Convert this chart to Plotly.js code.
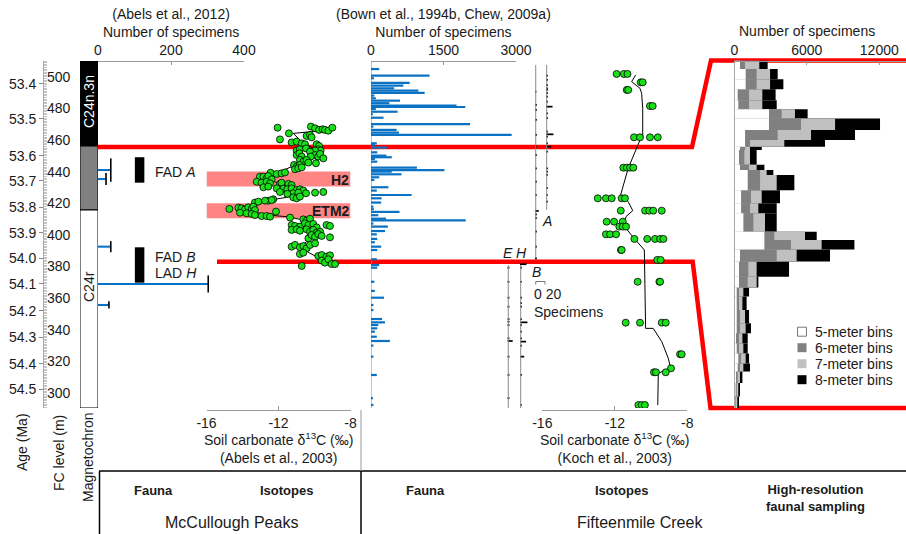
<!DOCTYPE html>
<html><head><meta charset="utf-8">
<script src="https://cdn.plot.ly/plotly-3.0.1.min.js"></script>
<style>html,body{margin:0;padding:0;background:#fff}</style>
</head><body><div id="chart" style="width:906px;height:534px"></div>
<script>
// ---------------- DATA ----------------
const fcTicks = [300, 320, 340, 360, 380, 400, 420, 440, 460, 480, 500];
const ageLabels = ['53.4','53.5','53.6','53.7','53.8','53.9','54.0','54.1','54.2','54.3','54.4','54.5'];
const ageLevels = [495.6, 473.4, 450.0, 434.2, 417.7, 401.3, 385.4, 369.0, 351.9, 335.4, 318.4, 302.5];

const chronLabels = ['C24n.3n', '', 'C24r'];
const chronTop = [512, 456.3, 415.8];
const chronBottom = [456.3, 415.8, 290.5];

const boundaryLevels = [455.7, 383.1];
const bandNames = ['H2', 'ETM2'];
const bandBottom = [430.6, 410.6];
const bandTop = [440.1, 420.1];

// McCullough Peaks fauna
const mcFaunaLevel = [441.1, 435.4, 392.6, 369.0, 355.7];
const mcFaunaCount = [35, 22, 35, 302, 30];
const mcFaunaHalfSpan = [7.4, 3.8, 3.5, 5.4, 2.3];
const fadLabels = ['FAD <i>A</i>', 'FAD <i>B</i>', 'LAD <i>H</i>'];
const fadTop = [449.2, 392.2];
const fadBottom = [433.1, 369.8];

// McCullough Peaks isotopes
const mcIsoVal = [-12.05,-10.20,-9.97,-9.75,-9.55,-9.42,-9.23,-9.01,-11.42,-10.44,-10.25,-10.16,-11.92,-11.27,-10.99,-10.71,-10.53,-9.88,-9.75,-9.79,-9.66,-9.97,-10.99,-10.81,-10.47,-10.25,-10.99,-10.84,-10.71,-9.97,-9.79,-9.69,-9.51,-10.21,-10.81,-10.62,-10.44,-9.92,-10.34,-11.14,-10.99,-10.81,-11.08,-10.90,-10.71,-12.44,-12.10,-11.83,-11.64,-13.03,-12.84,-12.66,-12.57,-12.38,-13.21,-12.94,-12.66,-12.47,-11.92,-11.83,-11.45,-11.27,-12.84,-12.57,-12.10,-11.73,-11.51,-11.27,-10.99,-10.81,-10.62,-11.18,-10.90,-10.47,-9.97,-9.51,-11.92,-11.51,-12.29,-11.18,-10.99,-10.81,-12.57,-12.38,-13.31,-13.12,-12.75,-14.73,-14.23,-14.05,-13.86,-13.68,-13.49,-13.40,-13.31,-12.14,-14.14,-13.77,-13.49,-13.31,-12.94,-12.66,-12.47,-11.36,-10.62,-10.44,-10.25,-11.27,-11.08,-10.81,-10.53,-10.34,-10.07,-9.88,-9.33,-9.14,-11.27,-10.99,-10.81,-10.44,-10.25,-10.07,-9.88,-9.69,-10.34,-10.16,-9.97,-9.79,-9.60,-9.14,-11.27,-11.08,-10.81,-10.62,-10.44,-10.25,-9.97,-10.81,-10.62,-9.79,-9.60,-9.33,-9.14,-9.60,-9.42,-9.23,-9.05,-8.86,-10.71];
const mcIsoLevel = [467.9,468.6,467.5,466.5,466.9,466.5,466.0,467.9,464.3,462.7,463.3,461.8,460.5,458.6,459.1,458.0,457.4,457.4,456.3,454.2,453.4,453.4,453.4,454.2,454.8,452.7,450.6,451.7,449.6,450.6,449.6,451.3,448.5,449.6,447.5,446.4,447.5,445.4,445.8,444.3,443.2,444.3,441.6,442.2,442.8,439.4,438.6,439.0,439.6,436.9,436.9,435.9,437.3,435.2,433.7,433.1,433.7,432.7,432.3,433.1,432.3,431.6,430.2,430.6,429.5,429.3,428.9,429.5,428.5,428.9,428.1,426.4,426.8,426.4,426.8,427.2,427.2,426.0,422.6,423.8,423.2,424.3,421.7,422.1,420.5,421.1,421.7,416.5,417.3,416.9,416.2,417.5,416.5,417.9,415.8,414.8,414.1,413.7,413.3,412.6,412.0,412.0,411.6,411.0,409.9,409.1,410.3,406.3,405.7,405.3,407.4,406.3,407.0,404.8,406.3,405.7,403.2,403.6,402.7,403.6,402.1,403.2,401.5,402.1,397.9,400.0,398.9,400.6,399.4,398.5,392.6,393.7,392.2,393.0,391.6,393.7,394.7,388.0,388.8,386.7,387.3,386.3,387.1,383.8,382.5,384.6,381.6,381.6,380.4];
const mcTrendVal = [-9.05,-10.16,-11.18,-10.62,-10.07,-9.88,-10.25,-10.81,-11.27,-11.92,-12.84,-12.47,-11.73,-10.81,-10.62,-11.55,-12.47,-13.40,-14.14,-13.40,-12.66,-11.55,-10.62,-10.81,-10.44,-10.07,-10.44,-10.81,-10.25,-9.69,-9.05];
const mcTrendLevel = [467.5,465.4,464.3,458.0,454.8,452.7,449.6,445.4,443.2,440.1,436.9,434.8,431.6,429.5,426.4,423.8,422.1,420.0,416.9,414.8,412.6,411.6,409.5,406.3,403.2,400.0,395.8,392.6,388.4,385.2,382.1];

// Fifteenmile Creek fauna
const fmFaunaLevel = [505,500.8,499.2,496.2,494.5,492.8,491.3,489.9,488.2,486.5,485,483.4,481.8,481,479.7,478,476.4,474.2,470.1,468.6,466.5,464.8,463.3,458,457,455.3,452.3,450.2,449.2,448.1,446.4,442.6,441.1,440.1,438.4,436.5,434.8,430.2,428.1,425.3,423.2,420.5,417.9,416.3,414.6,412.5,410.3,409.3,407.2,405.3,402.5,400.4,397.5,395.4,392.6,390.5,384.6,381,379.3,370.4,364.6,360.3,355.7,352.5,346.8,344.7,343,340.9,338.8,335.6,332.9,330,323,311.4,296.7,292.4];
const fmFaunaCount = [170,1210,60,800,670,480,980,1110,70,100,600,380,1770,1950,100,550,40,260,2050,50,530,580,2910,120,80,330,130,320,430,80,130,950,1520,430,630,170,70,360,120,840,220,210,50,60,590,150,310,1960,50,350,290,120,130,80,210,130,120,170,130,70,80,270,50,50,230,290,150,130,80,120,390,50,50,120,40,50];

// Fifteenmile Creek taxon ranges (kite diagrams)
const taxa = ['E', 'H', 'B', 'A'];
const taxonTop = [381.0, 381.0, 507.6, 507.6];
const taxonBottom = [290.5, 290.5, 385.4, 415.8];
const eLevels = [379.3,370.4,360.3,354.6,346.8,345.1,343.0,334.6,332.9,323.0,311.4,296.7];
const eCounts = [4,4,4,4,4,4,4,4,11,4,4,4];
const hLevels = [381.5,379.3,370.4,360.3,356.8,354.6,346.8,344.7,343.0,338.8,334.6,332.5,330.0,323.0,311.4,292.4];
const hCounts = [14,4,4,4,4,4,4,16,4,4,4,13,4,9,4,4];
const bLevels = [490.7,482.3,479.1,472.8,463.3,455.9,450.6,442.2,433.7,425.3,415.2,413.1,410.6,402.1,392.6,385.2];
const bCounts = [3,4,4,4,4,4,4,4,4,4,8,4,4,4,4,4];
const aLevels = [500.8,498.1,494.9,492.8,491.8,489.7,487.5,484.4,481.2,477.0,473.9,465.4,463.7,462.2,458.0,455.9,452.7,442.2,440.1,438.0,429.6,425.3,421.1];
const aCounts = [4,4,4,4,4,4,4,4,14,4,4,4,16,4,4,11,4,4,4,4,4,4,4];

// Fifteenmile Creek isotopes
const fmIsoVal = [-11.9,-11.5,-11.3,-10.57,-10.46,-11.34,-11.26,-10.06,-9.91,-10.94,-10.61,-10.06,-9.63,-11.53,-11.34,-11.16,-10.98,-12.94,-12.49,-12.17,-11.62,-11.44,-11.67,-10.33,-10.1,-9.88,-9.41,-12.45,-12.04,-11.56,-11.75,-11.56,-11.38,-12.49,-12.26,-11.93,-10.92,-10.21,-9.78,-9.5,-9.32,-11.66,-11.62,-9.66,-9.47,-10.74,-9.54,-9.5,-11.4,-10.61,-9.41,-9.19,-8.4,-8.31,-8.9,-9.84,-9.73,-9.19,-10.7,-10.52,-10.34];
const fmIsoLevel = [501.9,501.9,501.9,496.6,496.6,491.8,491.8,481.6,481.6,461.8,461.8,461.8,461.8,442.6,442.6,442.6,442.6,423.2,423.2,423.2,423.2,423.2,415.4,415.4,415.4,415.4,415.4,408.4,408.4,408.4,405.3,405.3,405.3,400.4,400.4,400.4,397.5,397.5,397.5,397.5,397.5,390.5,390.5,384.2,384.2,370.4,370.4,370.4,344.5,344.5,344.5,344.5,324.5,324.5,315.6,313.1,313.1,313.1,292.4,292.4,292.4];
const fmTrendVal = [-10.85,-11.07,-10.61,-10.52,-10.46,-10.46,-10.61,-11.26,-11.68,-11.44,-11.26,-11.01,-11.38,-11.56,-11.38,-11.01,-10.37,-10.30,-9.88,-9.41,-9.05,-8.92,-9.19,-9.60,-9.63];
const fmTrendLevel = [501.3,497.0,492.8,489.7,480.2,462.3,460.1,442.2,425.3,423.2,421.1,415.4,411.6,406.3,404.2,398.9,390.5,340.9,340.9,332.5,322.0,315.6,314.6,312.5,292.4];

// High-resolution faunal sampling (cumulative stacked edges, per bin)
const hrEdges = [455.7,453.9,451.8,449.7,447.4,445.5,443.6,441.2,439.1,437.7,437.0,433.9,432.8,431.8,428.6,425.9,423.8,419.9,418.2,416.2,413.7,410.5,408.3,406.4,403.6,400.8,398.7,396.6,394.5,392.4,390.7,388.3,385.5,383.1];
const hr5 = [470,940,940,280,330,2870,2870,890,890,470,390,470,1110,1110,560,560,750,2490,2490,470,390,390,200,200,200,200,140,200,330,280,140,110,60];
const hr6 = [890,1850,1850,1220,1220,3920,5520,3590,1300,890,830,1220,2130,2130,1380,1300,1580,3310,4690,3510,1160,1110,390,390,470,470,390,390,560,470,280,200,110];
const hr7 = [2070,2960,2960,2320,2320,5020,8340,6350,4140,1300,1300,1850,2680,3510,2270,1990,2540,5850,7230,5160,1850,1850,750,670,890,940,670,750,940,750,470,330,250];
const hr8 = [2760,3590,4060,3420,3510,6070,12060,9990,7510,2270,1850,2490,3230,4970,3780,3510,3510,6820,9940,7920,4530,1990,1220,1020,1220,1380,1110,1110,1220,1300,670,470,390];
const hrNames = ['5-meter bins', '6-meter bins', '7-meter bins', '8-meter bins'];

// ---------------- LAYOUT HELPERS ----------------
const W = 906, H = 534;
const fx = p => p / W;
const fy = p => 1 - p / H;
const LV_BOT = 290.5, LV_TOP = 510.1, PX_TOP = 61, PX_BOT = 408;
const lvPaper = lv => fy(PX_BOT) + (lv - LV_BOT) / (LV_TOP - LV_BOT) * (fy(PX_TOP) - fy(PX_BOT));
const FONT = 'Liberation Sans, Arial, Helvetica, sans-serif';
const TXT = '#1a1a1a';
const taxonX = {E: 17.8, H: 44.5, B: 76.8, A: 100.4};
const GREEN = '#19e019', BLUE = '#0a72c4';
const hrColorByName = ['#ffffff', '#808080', '#c0c0c0', '#000000'];

function ann(text, x, y, o) {
  const a = {text, x: fx(x), y: fy(y), xref: 'paper', yref: 'paper', showarrow: false,
    xanchor: 'center', yanchor: 'middle', font: {family: FONT, size: 14, color: TXT}};
  if (o) { for (const k in o) { if (k === 'font') Object.assign(a.font, o.font); else a[k] = o[k]; } }
  return a;
}
function topAxis(d0, d1, range, ticks) {
  return {domain: [fx(d0), fx(d1)], range, anchor: 'free', position: fy(PX_TOP), side: 'top',
    tickmode: 'array', tickvals: ticks, ticktext: ticks.map(String), ticks: 'inside', ticklen: 3, tickcolor: '#999',
    showline: true, linecolor: '#999', linewidth: 1, showgrid: false, zeroline: false,
    tickfont: {family: FONT, size: 14, color: TXT}};
}
function isoAxis(d0, d1) {
  return {domain: [fx(d0), fx(d1)], range: [-16, -8], anchor: 'free', position: fy(410), side: 'bottom',
    tickmode: 'array', tickvals: [-16, -12, -8], ticktext: ['-16', '-12', '-8'], ticks: 'inside', ticklen: 4, tickcolor: '#999',
    showline: true, linecolor: '#999', linewidth: 1, showgrid: false, zeroline: false,
    tickfont: {family: FONT, size: 14, color: TXT}};
}

// ---------------- TRACES ----------------
const traces = [];
// magnetochron column
traces.push({type: 'bar', orientation: 'v', x: chronTop.map(() => 0.5), y: chronTop.map((t, i) => t - chronBottom[i]),
  base: chronBottom, width: 1, marker: {color: ['#000', '#808080', '#fff'], line: {color: '#000', width: 1}},
  xaxis: 'x', yaxis: 'y2', showlegend: false, hoverinfo: 'skip'});
// McCullough fauna
traces.push({type: 'bar', orientation: 'h', y: mcFaunaLevel, x: mcFaunaCount, width: 1.3, marker: {color: BLUE, line: {width: 0}},
  xaxis: 'x2', yaxis: 'y', showlegend: false});
traces.push({type: 'scatter', mode: 'markers', x: mcFaunaCount, y: mcFaunaLevel, marker: {size: 1, color: 'rgba(0,0,0,0)'},
  error_y: {type: 'data', array: mcFaunaHalfSpan, visible: true, width: 0, thickness: 1.6, color: '#000'},
  xaxis: 'x2', yaxis: 'y', showlegend: false});
// McCullough isotopes
traces.push({type: 'scatter', mode: 'lines', x: mcTrendVal, y: mcTrendLevel, line: {color: '#000', width: 1},
  xaxis: 'x3', yaxis: 'y', showlegend: false});
traces.push({type: 'scatter', mode: 'markers', x: mcIsoVal, y: mcIsoLevel,
  marker: {size: 7, color: GREEN, line: {color: '#000', width: 0.8}}, xaxis: 'x3', yaxis: 'y', showlegend: false});
// Fifteenmile fauna
traces.push({type: 'bar', orientation: 'h', y: fmFaunaLevel, x: fmFaunaCount, width: 1.4, marker: {color: BLUE, line: {width: 0}},
  xaxis: 'x4', yaxis: 'y', showlegend: false});
// taxon range lines
const rx = [], ry = [];
taxa.forEach((t, i) => { rx.push(taxonX[t], taxonX[t], null); ry.push(taxonTop[i], taxonBottom[i], null); });
traces.push({type: 'scatter', mode: 'lines', x: rx, y: ry, line: {color: '#8a8a8a', width: 1}, xaxis: 'x5', yaxis: 'y', showlegend: false});
// kite ticks
const kSets = [[eLevels, eCounts, 'E'], [hLevels, hCounts, 'H'], [bLevels, bCounts, 'B'], [aLevels, aCounts, 'A']];
const kY = [], kX = [], kB = [];
kSets.forEach(([lv, ct, t]) => lv.forEach((l, i) => { kY.push(l); kX.push(ct[i]); kB.push(taxonX[t] - 1.5); }));
traces.push({type: 'bar', orientation: 'h', y: kY, x: kX, base: kB, width: 1.1, marker: {color: '#000', line: {width: 0}},
  xaxis: 'x5', yaxis: 'y', showlegend: false});
// Fifteenmile isotopes
traces.push({type: 'scatter', mode: 'lines', x: fmTrendVal, y: fmTrendLevel, line: {color: '#000', width: 1},
  xaxis: 'x6', yaxis: 'y', showlegend: false});
traces.push({type: 'scatter', mode: 'markers', x: fmIsoVal, y: fmIsoLevel,
  marker: {size: 7, color: GREEN, line: {color: '#000', width: 0.8}}, xaxis: 'x6', yaxis: 'y', showlegend: false});
// high-resolution histograms (drawn back to front: 8, 7, 6, 5-meter)
const hrC = hrEdges.slice(0, -1).map((e, i) => (e + hrEdges[i + 1]) / 2);
const hrW = hrEdges.slice(0, -1).map((e, i) => e - hrEdges[i + 1]);
const hrSeries = [hr5, hr6, hr7, hr8];
[3, 2, 1, 0].forEach(k => {
  traces.push({type: 'bar', orientation: 'h', y: hrC, x: hrSeries[k], width: hrW, name: hrNames[k],
    marker: {color: hrColorByName[k], line: {width: 0}}, xaxis: 'x7', yaxis: 'y3', showlegend: false});
});

// ---------------- SHAPES ----------------
const shapes = [];
bandNames.forEach((n, i) => shapes.push({type: 'rect', xref: 'x3', yref: 'y', x0: -16, x1: -8, y0: bandBottom[i], y1: bandTop[i],
  fillcolor: '#ff8585', line: {width: 0}, layer: 'below'}));
fadTop.forEach((t, i) => shapes.push({type: 'rect', xref: 'x2', yref: 'y', x0: 101, x1: 127, y0: fadBottom[i], y1: t,
  fillcolor: '#000', line: {width: 0}}));
shapes.push({type: 'line', xref: 'x4', yref: 'y', x0: 0, x1: 0, y0: LV_BOT, y1: LV_TOP, line: {color: '#999', width: 1.2}, layer: 'below'});
shapes.push({type: 'line', xref: 'x7', yref: 'y3', x0: 0, x1: 0, y0: 383.1, y1: 455.7, line: {color: '#999', width: 1.2}});
// red correlation lines
const b1 = lvPaper(boundaryLevels[0]), b2 = lvPaper(boundaryLevels[1]);
shapes.push({type: 'path', xref: 'paper', yref: 'paper', layer: 'below',
  path: `M ${fx(98)},${b1} L ${fx(692)},${b1} L ${fx(711)},${fy(60.5)} L 1.01,${fy(60.5)}`,
  line: {color: '#ff0000', width: 4.5}});
shapes.push({type: 'path', xref: 'paper', yref: 'paper', layer: 'below',
  path: `M ${fx(217)},${b2} L ${fx(692.7)},${b2} L ${fx(710.5)},${fy(408)} L 1.01,${fy(408)}`,
  line: {color: '#ff0000', width: 4.5}});
// specimen scale bracket
shapes.push({type: 'path', xref: 'x5', yref: 'paper',
  path: `M ${taxonX.B},${fy(284.5)} L ${taxonX.B},${fy(281.5)} L ${taxonX.B + 20},${fy(281.5)} L ${taxonX.B + 20},${fy(284.5)}`,
  line: {color: '#777', width: 1}});
// bottom frame
shapes.push({type: 'line', xref: 'paper', yref: 'paper', x0: fx(99), x1: 1, y0: fy(471), y1: fy(471), line: {color: '#000', width: 1.5}});
shapes.push({type: 'line', xref: 'paper', yref: 'paper', x0: fx(99.5), x1: fx(99.5), y0: fy(471), y1: 0, line: {color: '#000', width: 1.5}});
shapes.push({type: 'line', xref: 'paper', yref: 'paper', x0: fx(361), x1: fx(361), y0: fy(471), y1: 0, line: {color: '#000', width: 1.5}});
shapes.push({type: 'line', xref: 'paper', yref: 'paper', x0: fx(361), x1: fx(361), y0: fy(410), y1: fy(471), line: {color: '#999', width: 1}});
// legend swatches for the high-resolution bins
hrNames.forEach((n, i) => {
  const cy = 331.7 + i * 16;
  shapes.push({type: 'rect', xref: 'paper', yref: 'paper', x0: fx(797.5), x1: fx(806.5), y0: fy(cy + 4.5), y1: fy(cy - 4.5),
    fillcolor: hrColorByName[i], line: {color: i === 0 ? '#555' : hrColorByName[i], width: i === 0 ? 0.8 : 0}});
});

// ---------------- ANNOTATIONS ----------------
const annotations = [
  ann('(Abels et al., 2012)<br>Number of specimens', 171, 22.5),
  ann('(Bown et al., 1994b, Chew, 2009a)<br>Number of specimens', 443.5, 22.5),
  ann('Number of specimens', 807, 31),
  ann('Soil carbonate δ<sup>13</sup>C (‰)<br>(Abels et al., 2003)', 278.5, 448),
  ann('Soil carbonate δ<sup>13</sup>C (‰)<br>(Koch et al., 2003)', 614.8, 448),
  ann(fadLabels[0], 153, 172, {xanchor: 'left'}),
  ann(fadLabels[1], 153, 257, {xanchor: 'left'}),
  ann(fadLabels[2], 153, 273, {xanchor: 'left'}),
  ann('<b>' + bandNames[0] + '</b>', 351, 179.5, {xanchor: 'right'}),
  ann('<b>' + bandNames[1] + '</b>', 352, 211, {xanchor: 'right'}),
  ann('<i>E</i>', 508, 253), ann('<i>H</i>', 521, 253), ann('<i>A</i>', 547, 221), ann('<i>B</i>', 536, 272),
  ann('0 20', 531.5, 294, {xanchor: 'left'}),
  ann('Specimens', 531.5, 312, {xanchor: 'left'}),
  ann(chronLabels[0], 89, 102, {textangle: -90, font: {color: '#fff', size: 14}}),
  ann(chronLabels[2], 89, 287, {textangle: -90}),
  ann('Age (Ma)', 22, 442, {textangle: -90}),
  ann('FC level (m)', 59, 453, {textangle: -90}),
  ann('Magnetochron', 88, 457, {textangle: -90}),
  ann('<b>Fauna</b>', 153, 490, {font: {size: 13}}),
  ann('<b>Isotopes</b>', 286, 490, {font: {size: 13}}),
  ann('<b>Fauna</b>', 425, 490, {font: {size: 13}}),
  ann('<b>Isotopes</b>', 621, 490, {font: {size: 13}}),
  ann('<b>High-resolution<br>faunal sampling</b>', 815, 498, {font: {size: 13}}),
  ann('McCullough Peaks', 231, 522, {font: {size: 16}}),
  ann('Fifteenmile Creek', 640, 522, {font: {size: 16}})
];
hrNames.forEach((n, i) => annotations.push(ann(n, 813, 331.7 + i * 16, {xanchor: 'left'})));

// ---------------- LAYOUT ----------------
const layout = {
  width: W, height: H, margin: {l: 0, r: 0, t: 0, b: 0, pad: 0},
  paper_bgcolor: '#fff', plot_bgcolor: 'rgba(0,0,0,0)',
  font: {family: FONT, size: 14, color: TXT},
  barmode: 'overlay', hovermode: false, showlegend: false,
  xaxis: {domain: [fx(80), fx(98)], range: [0, 1], visible: false, anchor: 'y2'},
  yaxis: {domain: [fy(PX_BOT), fy(PX_TOP)], range: [LV_BOT, LV_TOP], anchor: 'free', position: fx(46), side: 'right',
    tickmode: 'array', tickvals: fcTicks, ticks: '', showline: false, showgrid: false, zeroline: false,
    tickfont: {family: FONT, size: 14, color: TXT}},
  yaxis2: {overlaying: 'y', range: [LV_BOT, LV_TOP], anchor: 'free', position: fx(43), side: 'left',
    tickmode: 'array', tickvals: ageLevels, ticktext: ageLabels, ticks: 'outside', ticklen: 4, tickcolor: '#888',
    showline: true, linecolor: '#aaa', linewidth: 1, showgrid: false, zeroline: false,
    minor: {tick0: 0, dtick: 1, ticks: 'inside', ticklen: 3, tickcolor: '#c4c4c4', showgrid: false},
    tickfont: {family: FONT, size: 14, color: TXT}},
  yaxis3: {domain: [fy(408), fy(60.5)], range: [383.1, 455.7], anchor: 'free', position: fx(734.3), visible: false},
  xaxis2: topAxis(98, 244, [0, 400], [0, 200, 400]),
  xaxis3: isoAxis(206.5, 350.5),
  xaxis4: topAxis(371, 516, [0, 3000], [0, 1500, 3000]),
  xaxis5: {domain: [fx(500), fx(560)], range: [0, 129], visible: false, anchor: 'y'},
  xaxis6: isoAxis(542.3, 687.3),
  xaxis7: Object.assign(topAxis(734.3, 906, [0, 14210], [0, 6000, 12000]), {position: fy(60.5)}),
  shapes, annotations
};

Plotly.newPlot('chart', traces, layout, {staticPlot: true, displayModeBar: false});
</script></body></html>
